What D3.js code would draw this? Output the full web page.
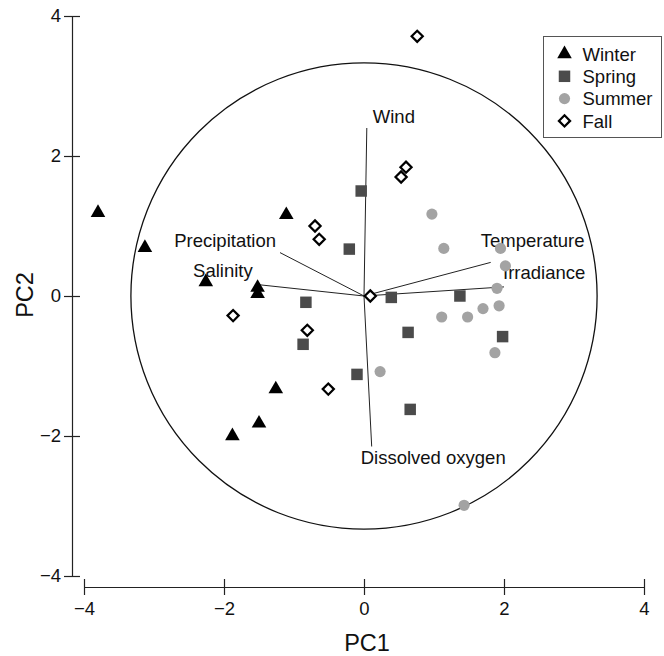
<!DOCTYPE html>
<html>
<head>
<meta charset="utf-8">
<script src="https://cdn.jsdelivr.net/npm/d3@7"></script>
<style>
  html, body { margin: 0; padding: 0; background: #fff; }
  svg { display: block; font-family: "Liberation Sans", Arial, Helvetica, sans-serif; }
</style>
</head>
<body>
<svg id="chart" width="664" height="656"></svg>
<script>
// sample scores on PC1 / PC2, by season
const winterPC1 = [-3.80, -3.13, -2.26, -1.52, -1.52, -1.11, -1.26, -1.50, -1.88];
const winterPC2 = [1.19, 0.69, 0.20, 0.12, 0.03, 1.16, -1.33, -1.82, -2.00];

const springPC1 = [-0.04, -0.21, -0.83, -0.87, -0.10, 0.39, 0.63, 0.66, 1.37, 1.98];
const springPC2 = [1.50, 0.67, -0.09, -0.69, -1.12, -0.02, -0.52, -1.62, 0.00, -0.58];

const summerPC1 = [0.97, 1.14, 1.95, 2.02, 1.90, 1.93, 1.70, 1.48, 1.11, 1.87, 0.23, 1.43];
const summerPC2 = [1.17, 0.68, 0.68, 0.43, 0.11, -0.14, -0.18, -0.30, -0.30, -0.81, -1.08, -2.99];

const fallPC1 = [0.76, 0.60, 0.53, -0.70, -0.64, 0.09, -1.87, -0.81, -0.51];
const fallPC2 = [3.71, 1.84, 1.70, 1.00, 0.81, 0.00, -0.28, -0.49, -1.33];

// variable loadings (arrows)
const variables = ["Wind", "Temperature", "Irradiance", "Precipitation", "Salinity", "Dissolved oxygen"];
const loadPC1 = [0.04, 1.81, 2.00, -1.20, -1.49, 0.11];
const loadPC2 = [2.40, 0.48, 0.13, 0.62, 0.16, -2.15];

const circleRadius = 3.33;
const tickValues = [-4, -2, 0, 2, 4];
const seasons = ["Winter", "Spring", "Summer", "Fall"];

const svg = d3.select("#chart");

const x = d3.scaleLinear().domain([-4, 4]).range([84, 644]);
const y = d3.scaleLinear().domain([-4, 4]).range([576, 16]);

const fontSize = 18.5;

// axes
const xAxis = svg.append("g")
    .attr("transform", "translate(0,587)")
    .call(d3.axisBottom(x).tickValues(tickValues).tickSize(8).tickSizeOuter(0).tickPadding(7));
xAxis.selectAll(".tick line").attr("y1", -8);

const yAxis = svg.append("g")
    .attr("transform", "translate(72,0)")
    .call(d3.axisLeft(y).tickValues(tickValues).tickSize(8).tickSizeOuter(0).tickPadding(3));
yAxis.selectAll(".tick line").attr("x1", 8);

svg.selectAll(".domain, .tick line")
    .attr("stroke", "#222")
    .attr("stroke-width", 1.2);
svg.selectAll(".tick text")
    .attr("fill", "#111")
    .style("font-size", fontSize + "px")
    .style("font-family", "inherit");

svg.append("text")
    .attr("x", 367)
    .attr("y", 651)
    .attr("text-anchor", "middle")
    .style("font-size", "23.5px")
    .attr("fill", "#111")
    .text("PC1");

svg.append("text")
    .attr("transform", "translate(33,295) rotate(-90)")
    .attr("text-anchor", "middle")
    .style("font-size", "23.5px")
    .attr("fill", "#111")
    .text("PC2");

// correlation circle
svg.append("circle")
    .attr("cx", x(0))
    .attr("cy", y(0))
    .attr("r", x(circleRadius) - x(0))
    .attr("fill", "none")
    .attr("stroke", "#111")
    .attr("stroke-width", 1.3);

// arrows
const labelOffsets = {
    "Wind": { dx: 6, dy: -5.5, anchor: "start" },
    "Temperature": { dx: -10, dy: -15, anchor: "start" },
    "Irradiance": { dx: -1, dy: -8, anchor: "start" },
    "Precipitation": { dx: -4, dy: -6, anchor: "end" },
    "Salinity": { dx: -7, dy: -8, anchor: "end" },
    "Dissolved oxygen": { dx: -11, dy: 17.5, anchor: "start" }
};

const vectors = variables.map((name, i) => ({ name, pc1: loadPC1[i], pc2: loadPC2[i] }));

svg.append("g")
    .selectAll("line")
    .data(vectors)
    .enter().append("line")
    .attr("x1", x(0))
    .attr("y1", y(0))
    .attr("x2", d => x(d.pc1))
    .attr("y2", d => y(d.pc2))
    .attr("stroke", "#222")
    .attr("stroke-width", 1);

svg.append("g")
    .selectAll("text")
    .data(vectors)
    .enter().append("text")
    .attr("x", d => x(d.pc1) + labelOffsets[d.name].dx)
    .attr("y", d => y(d.pc2) + labelOffsets[d.name].dy)
    .attr("text-anchor", d => labelOffsets[d.name].anchor)
    .style("font-size", fontSize + "px")
    .attr("fill", "#111")
    .text(d => d.name);

// points
const zip = (a, b) => a.map((v, i) => ({ pc1: v, pc2: b[i] }));

const diamond = r => `M0,${-r}L${r},0L0,${r}L${-r},0Z`;

const styles = {
    Winter: { path: d3.symbol(d3.symbolTriangle, 92)(), fill: "#000", stroke: "none", sw: 0 },
    Spring: { path: d3.symbol(d3.symbolSquare, 132)(), fill: "#4b4b4b", stroke: "none", sw: 0 },
    Summer: { path: d3.symbol(d3.symbolCircle, 98)(), fill: "#a3a3a3", stroke: "none", sw: 0 },
    Fall: { path: diamond(5.6), fill: "#fff", stroke: "#000", sw: 2.2 }
};

const seasonData = {
    Winter: zip(winterPC1, winterPC2),
    Spring: zip(springPC1, springPC2),
    Summer: zip(summerPC1, summerPC2),
    Fall: zip(fallPC1, fallPC2)
};

seasons.forEach(s => {
    svg.append("g")
        .selectAll("path")
        .data(seasonData[s])
        .enter().append("path")
        .attr("transform", d => `translate(${x(d.pc1)},${y(d.pc2)})`)
        .attr("d", styles[s].path)
        .attr("fill", styles[s].fill)
        .attr("stroke", styles[s].stroke)
        .attr("stroke-width", styles[s].sw);
});

// legend
const legend = svg.append("g").attr("transform", "translate(543.5,36.5)");

legend.append("rect")
    .attr("width", 118)
    .attr("height", 101)
    .attr("fill", "#fff")
    .attr("stroke", "#555")
    .attr("stroke-width", 1);

const item = legend.selectAll(".item")
    .data(seasons)
    .enter().append("g")
    .attr("class", "item")
    .attr("transform", (d, i) => `translate(0,${17.5 + i * 22.3})`);

item.append("path")
    .attr("transform", "translate(21,0)")
    .attr("d", d => styles[d].path)
    .attr("fill", d => styles[d].fill)
    .attr("stroke", d => styles[d].stroke)
    .attr("stroke-width", d => styles[d].sw);

item.append("text")
    .attr("x", 39)
    .attr("y", 6.7)
    .style("font-size", fontSize + "px")
    .attr("fill", "#111")
    .text(d => d);
</script>
</body>
</html>
